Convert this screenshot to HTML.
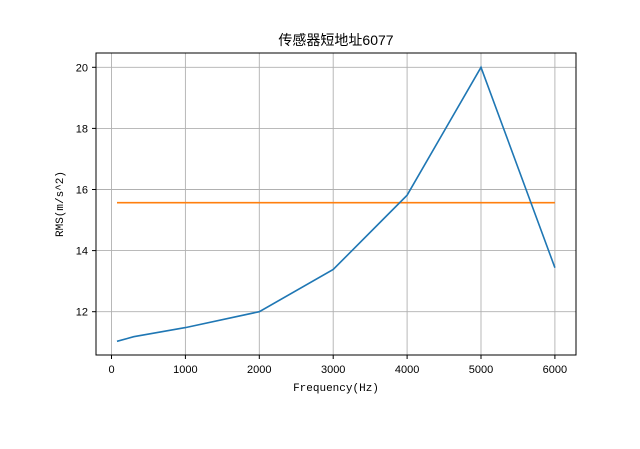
<!DOCTYPE html>
<html><head><meta charset="utf-8"><style>body{margin:0;background:#fff}</style></head>
<body>
<svg width="640" height="444" xmlns="http://www.w3.org/2000/svg" font-family="'Liberation Sans','Noto Sans CJK SC',sans-serif">
<rect width="640" height="444" fill="#fff"/>
<g stroke="#b0b0b0" stroke-width="0.9">
<line x1="111.5" y1="53" x2="111.5" y2="355"/>
<line x1="185.4" y1="53" x2="185.4" y2="355"/>
<line x1="259.3" y1="53" x2="259.3" y2="355"/>
<line x1="333.2" y1="53" x2="333.2" y2="355"/>
<line x1="407.1" y1="53" x2="407.1" y2="355"/>
<line x1="481" y1="53" x2="481" y2="355"/>
<line x1="554.9" y1="53" x2="554.9" y2="355"/>
<line x1="96" y1="67.3" x2="576" y2="67.3"/>
<line x1="96" y1="128.4" x2="576" y2="128.4"/>
<line x1="96" y1="189.5" x2="576" y2="189.5"/>
<line x1="96" y1="250.6" x2="576" y2="250.6"/>
<line x1="96" y1="311.7" x2="576" y2="311.7"/>
</g>
<polyline fill="none" stroke="#ff7f0e" stroke-width="1.6" points="117,202.7 554.9,202.7"/>
<polyline fill="none" stroke="#1f77b4" stroke-width="1.6" points="117,341.3 133.7,336.7 185.4,327.6 259.3,311.7 333.2,269.5 407.1,195.2 481,67.3 554.9,267.7"/>
<rect x="96" y="53" width="480" height="302" fill="none" stroke="#000" stroke-width="1"/>
<g stroke="#000">
<line x1="111.5" y1="355" x2="111.5" y2="359"/><line x1="185.4" y1="355" x2="185.4" y2="359"/><line x1="259.3" y1="355" x2="259.3" y2="359"/><line x1="333.2" y1="355" x2="333.2" y2="359"/><line x1="407.1" y1="355" x2="407.1" y2="359"/><line x1="481" y1="355" x2="481" y2="359"/><line x1="554.9" y1="355" x2="554.9" y2="359"/>
<line x1="92" y1="67.3" x2="96" y2="67.3"/><line x1="92" y1="128.4" x2="96" y2="128.4"/><line x1="92" y1="189.5" x2="96" y2="189.5"/><line x1="92" y1="250.6" x2="96" y2="250.6"/><line x1="92" y1="311.7" x2="96" y2="311.7"/>
</g>
<g font-size="11" fill="#000" text-anchor="middle">
<text x="111.5" y="373">0</text><text x="185.4" y="373">1000</text><text x="259.3" y="373">2000</text><text x="333.2" y="373">3000</text><text x="407.1" y="373">4000</text><text x="481" y="373">5000</text><text x="554.9" y="373">6000</text>
</g>
<g font-size="11" fill="#000" text-anchor="end">
<text x="88" y="71.3">20</text><text x="88" y="132.4">18</text><text x="88" y="193.5">16</text><text x="88" y="254.6">14</text><text x="88" y="315.7">12</text>
</g>
<text x="336" y="391" font-size="11" text-anchor="middle" font-family="'Liberation Mono','Noto Sans CJK SC',monospace">Frequency(Hz)</text>
<text transform="translate(63,204) rotate(-90)" font-size="11" text-anchor="middle" font-family="'Liberation Mono','Noto Sans CJK SC',monospace">RMS(m/s^2)</text>
<text x="336" y="45" font-size="14" text-anchor="middle">传感器短地址6077</text>
</svg>
</body></html>
